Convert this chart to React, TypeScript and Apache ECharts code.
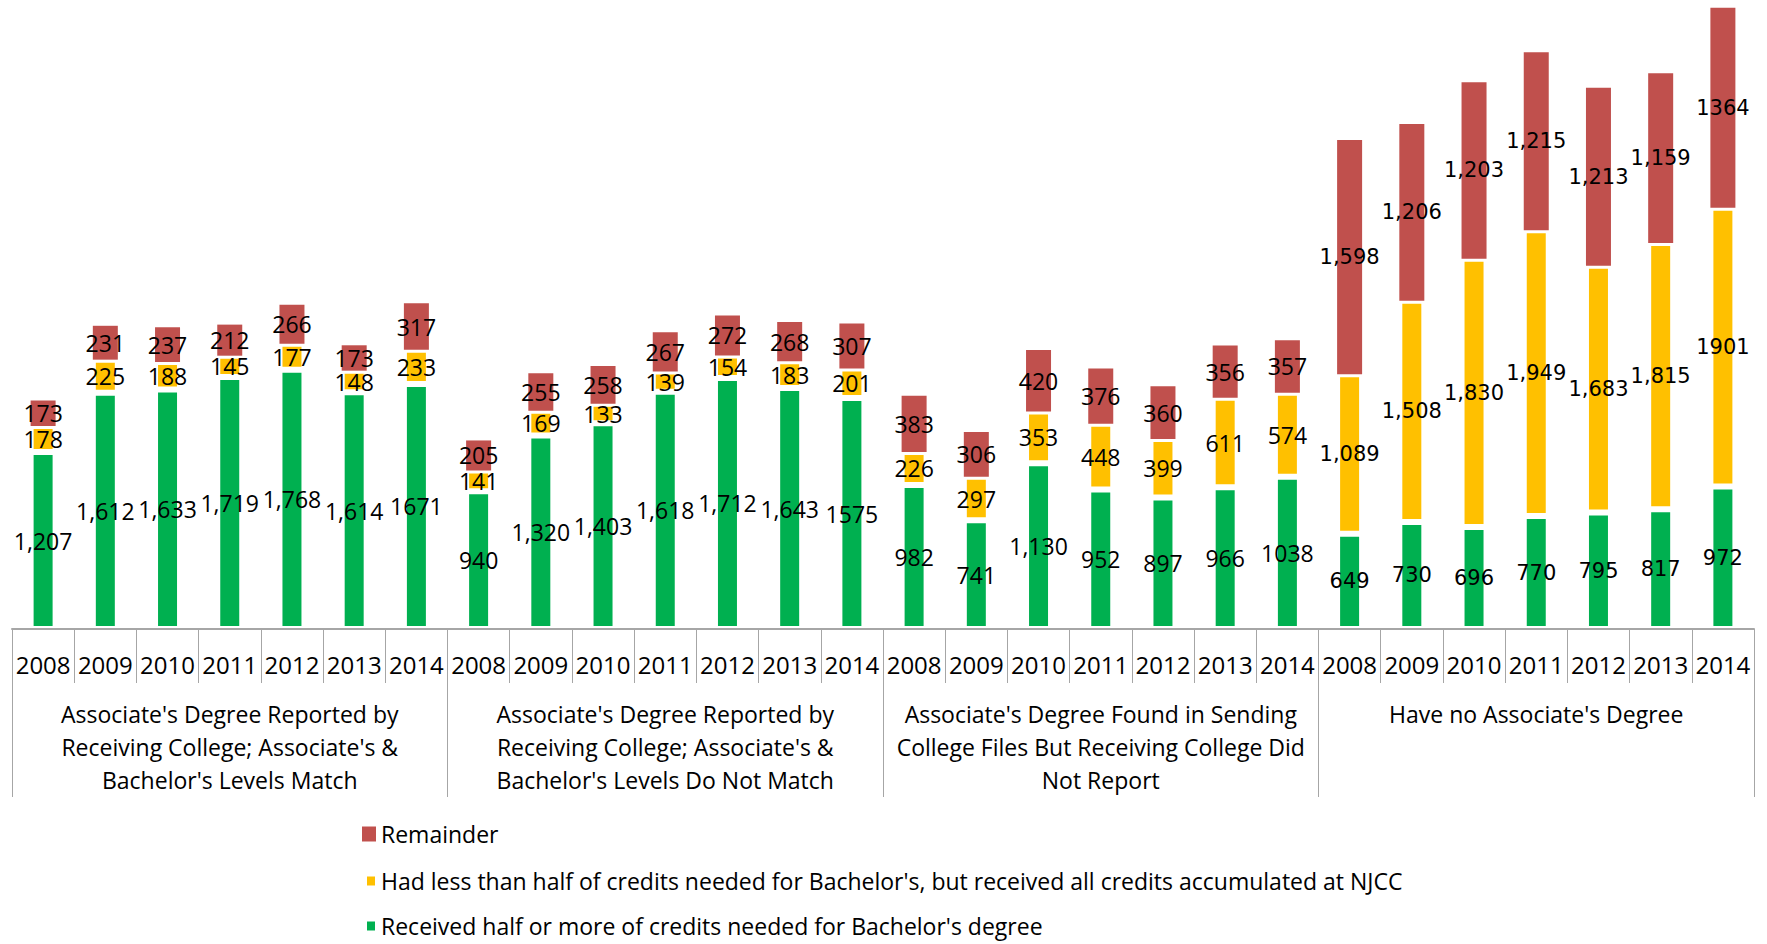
import React, { useEffect, useRef } from "react";
import * as echarts from "echarts";

const years = ["2008", "2009", "2010", "2011", "2012", "2013", "2014"];
const groups = [
  "Associate's Degree Reported by\nReceiving College; Associate's &\nBachelor's Levels Match",
  "Associate's Degree Reported by\nReceiving College; Associate's &\nBachelor's Levels Do Not Match",
  "Associate's Degree Found in Sending\nCollege Files But Receiving College Did\nNot Report",
  "Have no Associate's Degree",
];
const seriesNames = [
  "Received half or more of credits needed for Bachelor's degree",
  "Had less than half of credits needed for Bachelor's, but received all credits accumulated at NJCC",
  "Remainder",
];
// 4 groups x 7 years
const receivedHalf = [
  1207, 1612, 1633, 1719, 1768, 1614, 1671,
  940, 1320, 1403, 1618, 1712, 1643, 1575,
  982, 741, 1130, 952, 897, 966, 1038,
  649, 730, 696, 770, 795, 817, 972,
];
const hadLess = [
  178, 225, 188, 145, 177, 148, 233,
  141, 169, 133, 139, 154, 183, 201,
  226, 297, 353, 448, 399, 611, 574,
  1089, 1508, 1830, 1949, 1683, 1815, 1901,
];
const remainder = [
  173, 231, 237, 212, 266, 173, 317,
  205, 255, 258, 267, 272, 268, 307,
  383, 306, 420, 376, 360, 356, 357,
  1598, 1206, 1203, 1215, 1213, 1159, 1364,
];
const colors = ["#00b050", "#ffc000", "#c0504d"];

const FONT = "'Open Sans', sans-serif";

export default function App() {
  const ref = useRef<HTMLDivElement>(null);
  useEffect(() => {
    if (!ref.current) return;
    const chart = echarts.init(ref.current, null, { renderer: "svg" });
    const categories: string[] = [];
    groups.forEach(() => years.forEach((y) => categories.push(y)));

    const fmt = (p: any) => {
      const v = p.value as number;
      return p.dataIndex % 7 === 6 ? String(v) : v.toLocaleString("en-US");
    };
    const mkData = (arr: number[]) =>
      arr.map((v, i) =>
        i >= 21
          ? { value: v, label: { fontFamily: "'DejaVu Sans', sans-serif", fontSize: 21 } }
          : { value: v }
      );
    const labelBase = {
      show: true,
      position: "inside",
      color: "#000",
      fontFamily: FONT,
      fontSize: 23,
      textBorderWidth: 0,
      formatter: fmt,
    };
    const series = [receivedHalf, hadLess, remainder].map((arr, si) => ({
      name: seriesNames[si],
      type: "bar",
      stack: "total",
      barWidth: 25,
      xAxisIndex: 0,
      yAxisIndex: 0,
      data: mkData(arr),
      itemStyle:
        si < 2
          ? { color: colors[si], borderColor: "#ffffff", borderWidth: 3 }
          : { color: colors[si], borderWidth: 0 },
      label: labelBase,
    }));

    const legendCommon = {
      orient: "vertical",
      selectedMode: false,
      padding: 0,
      icon: "rect",
      textStyle: { fontFamily: FONT, fontSize: 23, color: "#000", lineHeight: 24 },
    };

    chart.setOption({
      animation: false,
      backgroundColor: "#ffffff",
      color: colors,
      grid: { left: 12, right: 13, top: 0, bottom: 315 },
      xAxis: [
        {
          type: "category",
          data: categories,
          position: "bottom",
          z: 10,
          axisLine: { show: true, lineStyle: { color: "#a6a6a6", width: 2 } },
          axisTick: { show: true, interval: 0, length: 54, lineStyle: { color: "#a6a6a6", width: 1 } },
          axisLabel: {
            interval: 0,
            margin: 21,
            color: "#000",
            fontFamily: FONT,
            fontSize: 24,
            lineHeight: 28,
          },
        },
        {
          type: "category",
          data: groups,
          position: "bottom",
          gridIndex: 0,
          z: 10,
          axisLine: { show: false },
          axisTick: { show: true, interval: 0, length: 168, lineStyle: { color: "#a6a6a6", width: 1 } },
          axisLabel: {
            interval: 0,
            margin: 68,
            color: "#000",
            fontFamily: FONT,
            fontSize: 23,
            lineHeight: 33,
            align: "center",
          },
        },
      ],
      yAxis: { type: "value", min: 0, max: 4290, show: false, splitLine: { show: false } },
      legend: [
        { ...legendCommon, data: [seriesNames[2]], left: 362, top: 822, itemWidth: 14, itemHeight: 15 },
        { ...legendCommon, data: [seriesNames[1]], left: 365, top: 869, itemWidth: 10, itemHeight: 11 },
        { ...legendCommon, data: [seriesNames[0]], left: 365, top: 914, itemWidth: 10, itemHeight: 11 },
      ],
      series,
    });
    return () => chart.dispose();
  }, []);
  return (
    <div
      ref={ref}
      style={{ position: "fixed", left: 0, top: 0, width: 1767, height: 944, background: "#fff" }}
    />
  );
}
